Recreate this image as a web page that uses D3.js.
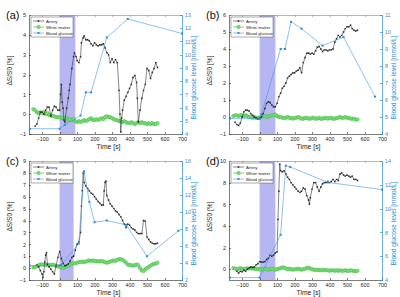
<!DOCTYPE html>
<html>
<meta charset="utf-8">
<style>
body { margin: 0; background: #fff; }
svg { font-family: "Liberation Sans", Arial, sans-serif; }
.tick text { font-size: 5.4px; }
.axis path, .axis line { fill: none; shape-rendering: crispEdges; }
</style>
<body>
<div id="chart"></div>
<script src="https://cdnjs.cloudflare.com/ajax/libs/d3/7.8.5/d3.min.js"></script>
<script>

var xTicks = [-100, 0, 100, 200, 300, 400, 500, 600, 700];
var legendLabels = ["Artery", "White matter", "Blood glucose"];

// white matter sampled every 10 s
var wmTimes = [-150,-140,-130,-120,-110,-100,-90,-80,-70,-60,
  -50,-40,-30,-20,-10,0,10,20,30,40,
  50,60,70,80,90,100,110,120,130,140,
  150,160,170,180,190,200,210,220,230,240,
  250,260,270,280,290,300,310,320,330,340,
  350,360,370,380,390,400,410,420,430,440,
  450,460,470,480,490,500,510,520,530,540,
  550,560];

// panel (a)
var arteryA = [[-140,-0.6],[-130,-0.5],[-120,-0.2],[-110,0.1],[-100,0.1],[-90,0.0],[-80,0.2],[-70,0.35],
  [-60,0.35],[-50,-0.1],[-40,0.2],[-30,0.4],[-20,0.35],[-10,0.2],[0,0.2],[5,1.0],[10,1.5],[15,0.6],
  [20,0.3],[25,-0.3],[30,-0.4],[40,0.3],[50,0.8],[55,1.2],[60,1.5],[70,2.3],[80,2.9],[85,3.1],
  [95,2.9],[100,2.7],[110,2.6],[120,2.9],[125,3.6],[135,3.85],[140,3.95],[150,3.75],[160,3.75],
  [170,3.7],[180,3.55],[190,3.45],[200,3.6],[210,3.5],[220,3.45],[230,3.5],[240,3.5],[250,3.55],
  [260,3.35],[270,3.1],[280,3.0],[290,2.6],[300,2.8],[310,2.6],[320,2.75],[330,2.6],[340,1.2],
  [345,0.0],[350,-0.9],[355,-0.2],[360,0.2],[370,0.7],[380,0.9],[390,1.1],[400,1.3],[410,1.5],
  [420,1.85],[430,1.95],[440,1.6],[445,0.8],[450,-0.4],[460,0.2],[470,0.8],[480,1.2],[490,1.5],
  [500,2.3],[510,2.2],[520,1.8],[530,2.1],[540,2.3],[550,2.6],[560,2.35]];
var wmA = [0.25,0.2,0.1,0.05,0.1,0.05,0.1,0.0,0.05,-0.05,
  -0.05,-0.1,-0.1,-0.15,-0.15,-0.15,-0.2,-0.2,-0.25,-0.2,
  -0.3,-0.25,-0.3,-0.25,-0.35,-0.4,-0.35,-0.4,-0.35,-0.3,
  -0.35,-0.3,-0.25,-0.2,-0.3,-0.3,-0.25,-0.3,-0.25,-0.2,
  -0.25,-0.15,-0.1,-0.15,-0.15,-0.2,-0.25,-0.3,-0.3,-0.35,
  -0.35,-0.4,-0.35,-0.4,-0.45,-0.45,-0.4,-0.45,-0.5,-0.45,
  -0.4,-0.45,-0.4,-0.45,-0.45,-0.5,-0.45,-0.5,-0.45,-0.5,
  -0.5,-0.45];
var glucoseA = [[-170,4.4],[0,4.4],[30,4.7],[120,5.4],[150,7.15],[180,7.15],[270,11.3],[390,12.7],[700,11.6]];

// panel (b)
var arteryB = [[-140,-0.3],[-130,-0.45],[-120,-0.5],[-110,-0.35],[-100,0.0],[-90,0.3],[-80,0.4],
  [-70,0.4],[-60,0.35],[-50,0.2],[-40,0.1],[-30,0.0],[-20,-0.05],[-10,-0.1],[0,-0.05],[10,0.0],
  [20,0.2],[30,0.5],[40,0.8],[50,0.9],[60,0.85],[70,0.7],[80,0.6],[90,0.6],[100,0.8],[110,1.2],
  [120,1.4],[130,1.7],[140,1.8],[150,2.0],[160,2.3],[170,2.4],[180,2.5],[190,2.6],[200,2.6],
  [210,2.7],[220,2.75],[230,2.9],[240,2.6],[250,3.2],[260,3.5],[270,3.75],[280,3.75],[290,3.7],
  [300,3.75],[310,3.7],[320,3.9],[330,4.1],[340,4.15],[350,4.0],[360,3.85],[370,3.95],[380,3.95],
  [390,3.9],[400,3.95],[410,3.95],[420,4.0],[430,4.4],[440,4.6],[450,4.8],[460,4.7],[470,4.8],
  [480,5.0],[490,5.2],[500,5.3],[510,5.3],[520,5.4],[530,5.2],[540,5.1],[550,5.05],[560,5.1]];
var wmB = [0.05,0.1,0.1,0.05,0.1,0.1,0.05,0.1,0.05,0.0,
  0.0,-0.05,0.0,-0.05,-0.05,-0.05,0.0,0.05,0.05,0.0,
  0.05,0.05,0.1,0.1,0.15,0.05,0.0,0.0,-0.05,-0.05,
  -0.05,0.0,-0.05,-0.05,-0.1,-0.05,-0.05,0.0,-0.05,-0.1,
  -0.1,-0.05,-0.05,-0.1,-0.1,-0.05,-0.05,-0.1,-0.1,-0.05,
  -0.1,-0.1,-0.05,-0.05,-0.1,-0.05,-0.05,-0.1,-0.1,-0.05,
  -0.05,0.0,-0.05,-0.05,0.0,-0.05,-0.05,-0.1,-0.1,-0.1,
  -0.15,-0.15];
var glucoseB = [[-170,4.9],[0,4.9],[10,5.15],[120,9.0],[145,9.0],[180,10.6],[240,10.2],[360,9.2],[480,9.7],[660,6.2]];

// panel (c)
var arteryC = [[-130,0.25],[-120,0.1],[-110,-0.2],[-100,-0.5],[-95,-0.8],[-90,-0.3],[-85,0.5],
  [-80,1.1],[-75,1.3],[-70,0.3],[-60,0.1],[-50,-0.1],[-40,-0.3],[-30,-0.5],[-20,0.2],[-10,0.9],
  [0,1.4],[10,0.8],[20,0.4],[30,0.2],[40,0.25],[50,0.35],[60,0.6],[70,0.9],[80,1.0],[90,1.5],
  [100,2.0],[110,2.2],[120,3.0],[125,5.2],[130,6.5],[135,8.0],[140,7.2],[150,6.9],[160,6.7],
  [170,6.5],[180,6.3],[190,6.2],[200,6.0],[210,5.8],[220,5.6],[230,5.45],[240,5.3],[250,5.3],
  [255,6.5],[260,7.2],[265,7.3],[270,6.1],[280,5.7],[290,5.4],[300,5.2],[310,5.0],[320,4.8],
  [330,4.7],[340,4.5],[350,4.3],[360,4.0],[370,3.7],[380,3.4],[390,3.7],[400,3.6],[410,3.4],
  [420,3.3],[430,3.2],[440,3.0],[450,2.9],[460,2.9],[470,2.9],[480,4.0],[490,3.95],[500,2.6],
  [510,2.4],[520,2.2],[530,2.1],[540,2.05],[550,2.05],[560,2.1]];
var wmC = [0.05,0.1,0.15,0.25,0.3,0.3,0.3,0.25,0.3,0.25,
  0.25,0.3,0.25,0.2,0.15,0.1,0.05,0.0,0.1,0.15,
  0.2,0.3,0.35,0.4,0.4,0.45,0.5,0.5,0.55,0.5,
  0.55,0.6,0.65,0.6,0.65,0.6,0.55,0.6,0.55,0.6,
  0.55,0.5,0.45,0.5,0.55,0.6,0.65,0.6,0.7,0.75,
  0.75,0.7,0.6,0.45,0.3,0.25,0.25,0.2,0.25,0.3,
  0.25,0.0,-0.2,-0.25,-0.1,0.0,0.1,0.2,0.3,0.35,
  0.4,0.45];
var glucoseC = [[-170,3.7],[0,3.7],[10,3.8],[110,6.3],[140,14.8],[170,11.2],[200,8.8],[270,9.0],[380,8.5],[500,4.8],[680,7.8]];

// panel (d)
var arteryD = [[-130,-0.2],[-120,-0.35],[-110,-0.2],[-100,-0.25],[-90,-0.1],[-80,-0.2],[-70,0.0],
  [-60,0.1],[-50,0.2],[-40,0.15],[-30,0.2],[-20,0.4],[-10,0.5],[0,0.7],[10,0.65],[20,0.65],
  [30,0.7],[40,0.9],[50,1.0],[60,1.3],[70,1.2],[80,1.3],[90,1.5],[100,1.6],[105,4.6],[110,7.2],
  [115,9.7],[120,9.1],[130,9.0],[140,9.1],[150,8.8],[160,8.5],[170,8.3],[180,8.0],[190,7.8],
  [200,7.6],[210,7.4],[220,7.2],[230,7.1],[240,7.2],[250,7.5],[260,7.4],[270,6.8],[280,6.4],
  [285,6.0],[290,6.6],[300,7.4],[310,8.0],[320,8.0],[330,7.6],[340,7.2],[350,7.6],[360,7.9],
  [370,8.0],[380,8.0],[390,8.1],[400,8.0],[410,8.1],[420,8.3],[430,8.1],[440,8.3],[450,8.2],
  [460,8.8],[470,8.9],[480,8.7],[490,8.6],[500,8.7],[510,8.6],[520,8.5],[530,8.6],[540,8.3],
  [550,8.3],[560,8.2]];
var wmD = [0.1,0.05,0.0,0.05,0.1,0.05,0.0,0.05,0.1,0.05,
  0.1,0.05,0.05,0.0,0.05,0.0,-0.05,0.0,0.05,0.0,
  -0.05,0.0,0.05,0.0,-0.05,0.0,0.05,0.1,0.15,0.15,
  0.05,0.0,0.05,0.0,-0.05,0.0,0.0,0.05,0.0,-0.05,
  0.0,0.05,0.1,0.15,0.05,0.0,-0.05,-0.05,-0.1,-0.05,
  -0.1,-0.1,-0.05,-0.1,-0.1,-0.15,-0.1,-0.1,-0.15,-0.1,
  -0.15,-0.1,-0.15,-0.15,-0.1,-0.15,-0.15,-0.1,-0.15,-0.15,
  -0.2,-0.15];
var glucoseD = [[-170,4.2],[0,4.2],[120,7.8],[150,13.6],[175,13.5],[390,12.2],[700,11.6]];

var panels = [
  {label: "(a)", left: 29, top: 15, artery: arteryA, wm: wmA, glucose: glucoseA,
   yL: [-1, 5], yLTicks: [-1,0,1,2,3,4,5], yR: [4, 13], yRTicks: [4,5,6,7,8,9,10,11,12,13], shade: 90},
  {label: "(b)", left: 229, top: 15, artery: arteryB, wm: wmB, glucose: glucoseB,
   yL: [-1, 6], yLTicks: [-1,0,1,2,3,4,5,6], yR: [4, 11], yRTicks: [4,5,6,7,8,9,10,11], shade: 90},
  {label: "(c)", left: 29, top: 161, artery: arteryC, wm: wmC, glucose: glucoseC,
   yL: [-1, 9], yLTicks: [-1,0,1,2,3,4,5,6,7,8,9], yR: [2, 16], yRTicks: [2,4,6,8,10,12,14,16], shade: 80},
  {label: "(d)", left: 229, top: 161, artery: arteryD, wm: wmD, glucose: glucoseD,
   yL: [-1, 10], yLTicks: [0,2,4,6,8,10], yR: [4, 14], yRTicks: [4,6,8,10,12,14], shade: 90}
];

var width = 153, height = 119;
var axisCol = "#262626", blue = "#2b8cd6", lineBlue = "#3a9be0", green = "#2fb82f", greenFill = "#86dd86";
var fmt = d3.format("d");

var svg = d3.select("#chart").append("svg")
    .attr("width", 400)
    .attr("height", 297);

panels.forEach(function(p) {
  var g = svg.append("g").attr("transform", "translate(" + p.left + "," + p.top + ")");

  var x = d3.scaleLinear().domain([-175, 700]).range([0, width]);
  var yL = d3.scaleLinear().domain(p.yL).range([height, 0]);
  var yR = d3.scaleLinear().domain(p.yR).range([height, 0]);

  // stimulus window
  g.append("rect")
      .attr("x", x(0)).attr("y", 0)
      .attr("width", x(p.shade) - x(0)).attr("height", height)
      .attr("fill", "#b6b6f2");

  // axes
  var xa = g.append("g").attr("class", "axis")
      .attr("transform", "translate(0," + height + ")")
      .call(d3.axisBottom(x).tickValues(xTicks).tickFormat(fmt).tickSize(-2).tickSizeOuter(0).tickPadding(3));
  var xt = g.append("g").attr("class", "axis")
      .call(d3.axisTop(x).tickValues(xTicks).tickSize(-2).tickSizeOuter(0).tickFormat(""));
  var la = g.append("g").attr("class", "axis")
      .call(d3.axisLeft(yL).tickValues(p.yLTicks).tickFormat(fmt).tickSize(-2).tickSizeOuter(0).tickPadding(3));
  var ra = g.append("g").attr("class", "axis")
      .attr("transform", "translate(" + width + ",0)")
      .call(d3.axisRight(yR).tickValues(p.yRTicks).tickFormat(fmt).tickSize(-2).tickSizeOuter(0).tickPadding(3));

  [xa, xt, la].forEach(function(a) {
    a.selectAll("path, line").attr("stroke", axisCol).attr("stroke-width", 0.6);
    a.selectAll("text").attr("fill", axisCol);
  });
  xt.selectAll("path, line").attr("stroke", "#888");
  ra.selectAll("path, line").attr("stroke", blue).attr("stroke-width", 0.7);
  ra.selectAll("text").attr("fill", blue);

  // white matter
  g.append("path")
      .datum(p.wm)
      .attr("fill", "none").attr("stroke", green).attr("stroke-width", 0.8)
      .attr("d", d3.line().x(function(d, i) { return x(wmTimes[i]); }).y(function(d) { return yL(d); }));
  g.selectAll(".wm").data(p.wm).enter().append("circle")
      .attr("cx", function(d, i) { return x(wmTimes[i]); })
      .attr("cy", function(d) { return yL(d); })
      .attr("r", 1.7)
      .attr("fill", greenFill).attr("stroke", green).attr("stroke-width", 0.5);

  // artery
  g.append("path")
      .datum(p.artery)
      .attr("fill", "none").attr("stroke", "#333").attr("stroke-width", 0.6)
      .attr("d", d3.line().x(function(d) { return x(d[0]); }).y(function(d) { return yL(d[1]); }));
  g.selectAll(".art").data(p.artery).enter().append("path")
      .attr("transform", function(d) { return "translate(" + x(d[0]) + "," + yL(d[1]) + ") rotate(45)"; })
      .attr("d", d3.symbol(d3.symbolCross, 2.2))
      .attr("fill", "#222");

  // blood glucose
  g.append("path")
      .datum(p.glucose)
      .attr("fill", "none").attr("stroke", lineBlue).attr("stroke-width", 0.6)
      .attr("d", d3.line().x(function(d) { return x(d[0]); }).y(function(d) { return yR(d[1]); }));
  g.selectAll(".glu").data(p.glucose).enter().append("rect")
      .attr("x", function(d) { return x(d[0]) - 1; })
      .attr("y", function(d) { return yR(d[1]) - 1; })
      .attr("width", 2).attr("height", 2)
      .attr("fill", blue);

  // legend
  var lg = g.append("g").attr("transform", "translate(2,2)");
  lg.append("rect").attr("width", 42).attr("height", 20)
      .attr("fill", "#fff").attr("stroke", "#333").attr("stroke-width", 0.4);
  legendLabels.forEach(function(name, i) {
    var yy = 4 + i * 6;
    var col = i === 0 ? "#333" : (i === 1 ? green : lineBlue);
    lg.append("line").attr("x1", 2).attr("x2", 13).attr("y1", yy).attr("y2", yy)
        .attr("stroke", col).attr("stroke-width", 0.6);
    if (i === 0) {
      lg.append("path").attr("transform", "translate(7.5," + yy + ") rotate(45)")
          .attr("d", d3.symbol(d3.symbolCross, 2.2)).attr("fill", "#222");
    } else if (i === 1) {
      lg.append("circle").attr("cx", 7.5).attr("cy", yy).attr("r", 1.7)
          .attr("fill", greenFill).attr("stroke", green).attr("stroke-width", 0.5);
    } else {
      lg.append("rect").attr("x", 6.5).attr("y", yy - 1).attr("width", 2).attr("height", 2)
          .attr("fill", blue);
    }
    lg.append("text").attr("x", 15).attr("y", yy + 1.5)
        .attr("font-size", 4.3).attr("fill", "#222").text(name);
  });

  // labels
  g.append("text")
      .attr("transform", "translate(-17," + (height / 2 - 4) + ") rotate(-90)")
      .attr("text-anchor", "middle").attr("font-size", 6.6).attr("fill", axisCol)
      .text("ΔS/S0 [%]");
  g.append("text")
      .attr("transform", "translate(" + (width + 14) + "," + (height / 2 + 3) + ") rotate(-90)")
      .attr("text-anchor", "middle").attr("font-size", 6.6).attr("fill", blue)
      .text("Blood glucose level [mmol/L]");
  g.append("text")
      .attr("x", width / 2 + 3).attr("y", height + 15)
      .attr("text-anchor", "middle").attr("font-size", 6.8).attr("fill", axisCol)
      .text("Time [s]");
  g.append("text")
      .attr("x", -23).attr("y", 4)
      .attr("font-size", 11).attr("fill", "#111")
      .text(p.label);
});
</script>
</body>
</html>
